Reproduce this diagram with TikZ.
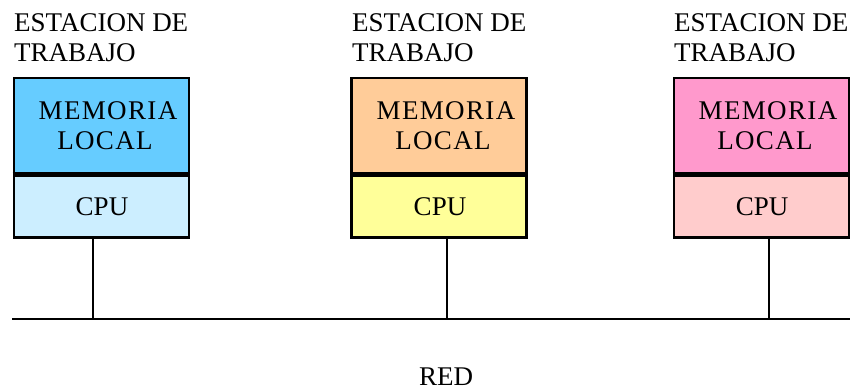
\documentclass[tikz,border=0pt]{standalone}
\usepackage{fontspec}
\setmainfont{Liberation Serif}
\newfontfamily\spacedfont[LetterSpace=5]{Liberation Serif}
\definecolor{memA}{HTML}{66CCFF}
\definecolor{cpuA}{HTML}{CCEEFF}
\definecolor{memB}{HTML}{FFCC99}
\definecolor{cpuB}{HTML}{FFFF99}
\definecolor{memC}{HTML}{FF99CC}
\definecolor{cpuC}{HTML}{FFCCCC}
\tikzset{
  box/.style={draw=black, line width=2.8pt, rectangle, inner sep=0pt, minimum width=175pt},
  membox/.style={box, minimum height=95pt},
  cpubox/.style={box, minimum height=64pt},
  lbl/.style={inner sep=0pt, anchor=base, font=\fontsize{27}{30}\selectfont},
  slbl/.style={inner sep=0pt, anchor=base, font=\fontsize{27}{30}\spacedfont},
  ttl/.style={inner sep=0pt, anchor=base west, font=\fontsize{27}{30}\selectfont},
  sep/.style={line width=4.8pt},
  wire/.style={line width=2.6pt},
}
\begin{document}
\begin{tikzpicture}[x=1pt,y=-1pt]
\useasboundingbox (0,0) rectangle (853,390);
% station 1
\node[ttl] (t1a) at (14,32) {ESTACION DE};
\node[ttl] (t1b) at (14,62) {TRABAJO};
\node[membox, fill=memA] (m1) at (101.5,125.5) {};
\node[cpubox, fill=cpuA] (c1) at (101.5,205.5) {};
\draw[sep] (m1.south west) -- (m1.south east);
\node[slbl] (m1a) at (108,120) {MEMORIA};
\node[slbl] (m1b) at (105,150) {LOCAL};
\node[lbl] (c1t) at (102,215) {CPU};
% station 2
\node[ttl] (t2a) at (352,32) {ESTACION DE};
\node[ttl] (t2b) at (352,62) {TRABAJO};
\node[membox, fill=memB] (m2) at (439,125.5) {};
\node[cpubox, fill=cpuB] (c2) at (439,205.5) {};
\draw[sep] (m2.south west) -- (m2.south east);
\node[slbl] (m2a) at (446,120) {MEMORIA};
\node[slbl] (m2b) at (443,150) {LOCAL};
\node[lbl] (c2t) at (440,215) {CPU};
% station 3
\node[ttl] (t3a) at (674,32) {ESTACION DE};
\node[ttl] (t3b) at (674,62) {TRABAJO};
\node[membox, fill=memC] (m3) at (761.5,125.5) {};
\node[cpubox, fill=cpuC] (c3) at (761.5,205.5) {};
\draw[sep] (m3.south west) -- (m3.south east);
\node[slbl] (m3a) at (768,120) {MEMORIA};
\node[slbl] (m3b) at (765,150) {LOCAL};
\node[lbl] (c3t) at (762,215) {CPU};
% network
\coordinate (netL) at (12,319);
\coordinate (netR) at (850,319);
\coordinate (j1) at (93,319);
\coordinate (j2) at (447,319);
\coordinate (j3) at (769,319);
\draw[wire] (netL) -- (netR);
\draw[wire] (c1.south -| j1) -- (j1);
\draw[wire] (c2.south -| j2) -- (j2);
\draw[wire] (c3.south -| j3) -- (j3);
\node[lbl] (red) at (446,385) {RED};
\end{tikzpicture}
\end{document}
